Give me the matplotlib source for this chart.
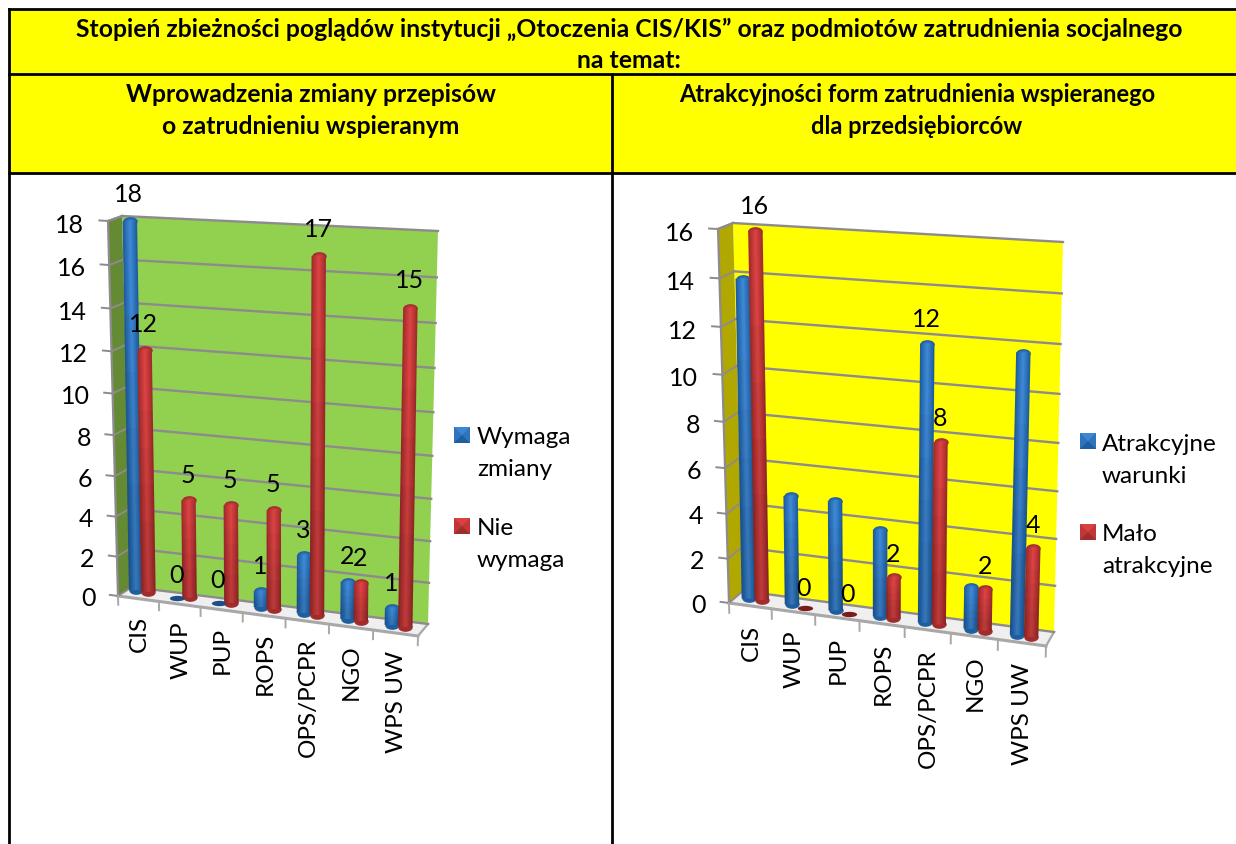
# stopien zbieznosci pogladow - two pseudo 3D cylinder charts inside a yellow table
import numpy as np
import matplotlib
matplotlib.use('Agg')
import matplotlib.pyplot as plt
from matplotlib.markers import MarkerStyle
from matplotlib.patches import Polygon, Rectangle
from matplotlib.transforms import Affine2D, Transform

plt.rcParams['font.family'] = ['Lato', 'DejaVu Sans']

categories = ['CIS', 'WUP', 'PUP', 'ROPS', 'OPS/PCPR', 'NGO', 'WPS UW']

# left chart
zmiana_tak = [18, 0, 0, 1, 3, 2, 1]
zmiana_nie = [12, 5, 5, 5, 17, 2, 15]
zmiana_ticks = [0, 2, 4, 6, 8, 10, 12, 14, 16, 18]

# right chart
atrakcyjne = [14, 5, 5, 4, 12, 2, 12]
malo_atrakcyjne = [16, 0, 0, 2, 8, 2, 4]
atrakcyjne_ticks = [0, 2, 4, 6, 8, 10, 12, 14, 16]
# only these labels are visible in the right chart
atrakcyjne_labels = [None, None, None, None, 12, None, None]

title_lines = ['Stopień zbieżności poglądów instytucji „Otoczenia CIS/KIS” oraz podmiotów zatrudnienia socjalnego',
               'na temat:']
left_head = ['Wprowadzenia zmiany przepisów', 'o zatrudnieniu wspieranym']
right_head = ['Atrakcyjności form zatrudnienia wspieranego', 'dla przedsiębiorców']

BLUE = ['#1f5e9e', '#2769ae', '#2e73bc', '#367dc8', '#3d86d2']
RED = ['#a02c2c', '#b03232', '#bf3737', '#cd3c3c', '#d84242']
GRID = '#8e8a8e'


class Plane(Transform):
    # perspective plane: (category, value) -> pixel, from 4 corners
    input_dims = 2
    output_dims = 2
    is_separable = False
    has_inverse = False

    def __init__(self, xmax, vmax, corners):
        super().__init__()
        src = [(0, 0), (xmax, 0), (0, vmax), (xmax, vmax)]
        rows, rhs = [], []
        for (x, y), (u, v) in zip(src, corners):
            rows.append([x, y, 1, 0, 0, 0, -u * x, -u * y])
            rows.append([0, 0, 0, x, y, 1, -v * x, -v * y])
            rhs += [u, v]
        h = np.linalg.solve(np.array(rows, dtype=float), np.array(rhs, dtype=float))
        self.h = np.append(h, 1).reshape(3, 3)

    def transform_non_affine(self, values):
        values = np.asarray(values, dtype=float)
        pts = np.column_stack([values, np.ones(len(values))]).dot(self.h.T)
        return pts[:, :2] / pts[:, 2:3]


fig = plt.figure(figsize=(12.36, 8.45), dpi=100)
ax = fig.add_axes([0, 0, 1, 1])
ax.set_xlim(0, 1236)
ax.set_ylim(845, 0)
ax.autoscale(False)
ax.axis('off')


def cylinder(pos, val, colors, tr, zero_col):
    if val == 0:
        flat = MarkerStyle('o', transform=Affine2D().scale(1, 0.35))
        ax.plot([pos], [0], marker=flat, ms=11, color=zero_col, mec='none', transform=tr, zorder=5)
        return
    flat_top = MarkerStyle('o', transform=Affine2D().scale(1, 0.6))
    for c, lw in zip(colors, [10.4, 8.2, 6.0, 3.8, 1.8]):
        ax.plot([pos, pos], [0.1, val - 0.1], color=c, lw=lw, solid_capstyle='butt', transform=tr, zorder=5)
        ax.plot([pos], [val - 0.1], marker=flat_top, ms=lw, color=c, mec='none', transform=tr, zorder=5)
    ax.plot([pos], [0.1], marker=flat_top, ms=10.4, color=colors[0], mec='none', transform=tr, zorder=4.9)
    # lower part of the bar gets darker step by step
    for part in [0.75, 0.6, 0.45, 0.3]:
        ax.plot([pos, pos], [0.1, val * part], color='k', alpha=0.03, lw=10.4, solid_capstyle='butt', transform=tr, zorder=5)


def swatch(x, y, colors):
    size = 16
    ax.add_patch(Rectangle((x, y), size, size, fc=colors[2], ec='none', zorder=6))
    ax.add_patch(Polygon([(x, y), (x + size, y), (x + size / 2, y + size / 2)], fc=colors[4], ec='none', zorder=6))
    ax.add_patch(Polygon([(x, y + size), (x + size, y + size), (x + size / 2, y + size / 2)], fc=colors[0], ec='none', zorder=6))


def chart(blue, red, ticks, wall_pts, bar_pts, front_pts, wall_col, side_col, blue_labels=None, top_pad=1.2):
    vmax = ticks[-1]
    n = len(categories)
    wall = Plane(n, vmax, wall_pts)
    bars = Plane(n, vmax, bar_pts)
    front = Plane(n, vmax, front_pts)
    wall_tr = wall + ax.transData
    bar_tr = bars + ax.transData
    front_tr = front + ax.transData

    # back wall, side wall, floor
    ax.add_patch(Polygon([wall_pts[0], wall_pts[1], wall_pts[3], wall_pts[2]], fc=wall_col, ec='none', zorder=2))
    ax.add_patch(Polygon([front_pts[0], wall_pts[0], wall_pts[2], front_pts[2]], fc=side_col, ec='none', zorder=2))
    ax.add_patch(Polygon([wall_pts[0], wall_pts[1], front_pts[1], front_pts[0]], fc='#efefef', ec='none', zorder=3))
    ax.plot([0, n], [0, 0], color='#a8a8a8', lw=2.2, transform=front_tr, zorder=3)
    ax.plot(*zip(front_pts[1], wall_pts[1]), color='#a8a8a8', lw=1.6, zorder=3)
    ax.plot([0, 0], [0, vmax], color=GRID, lw=1.6, transform=front_tr, zorder=3)
    ax.plot(*zip(front_pts[2], wall_pts[2]), color=GRID, lw=1.6, zorder=3)

    # grid and y ticks
    for t in ticks:
        ax.plot([0, n], [t, t], color=GRID, lw=1.7, transform=wall_tr, zorder=3)
        ax.plot(*zip(front.transform_non_affine([(0, t)])[0], wall.transform_non_affine([(0, t)])[0]),
                color=GRID, lw=1.4, zorder=3)
        ax.plot([-0.2, 0], [t, t], color=GRID, lw=1.4, transform=front_tr, zorder=3)
        ax.text(-0.55, t - 0.12, str(t), ha='right', va='center_baseline', fontsize=18, transform=front_tr, zorder=7)

    # x ticks and labels
    for i in range(n + 1):
        ax.plot([i, i], [0, -0.45], color='#a8a8a8', lw=1.4, transform=front_tr, zorder=3)
    for i, name in enumerate(categories):
        ax.text(i + 0.52, -0.8, name, rotation=90, ha='center', va='top', fontsize=17.5, transform=front_tr, zorder=7)

    # bars
    for i in range(n):
        cylinder(i + 0.35, blue[i], BLUE, bar_tr, '#1c4f86')
        cylinder(i + 0.65, red[i], RED, bar_tr, '#7a1c1c')

    # data labels
    if blue_labels is None:
        blue_labels = blue
    for i in range(n):
        if blue_labels[i] is not None:
            ax.text(i + 0.33, blue[i] + top_pad, str(blue_labels[i]), ha='center', va='center_baseline', fontsize=18,
                    transform=bar_tr, zorder=8)
        ax.text(i + 0.63, red[i] + top_pad, str(red[i]), ha='center', va='center_baseline', fontsize=18,
                transform=bar_tr, zorder=8)


# table cells
ax.add_patch(Rectangle((9, 10), 1227, 164, fc='#ffff00', ec='none', zorder=0))
ax.plot([9, 1236], [10, 10], color='k', lw=2, zorder=1)
ax.plot([9, 1236], [75, 75], color='k', lw=2, zorder=1)
ax.plot([9, 1236], [174, 174], color='k', lw=2, zorder=1)
ax.plot([9, 9], [10, 845], color='k', lw=2, zorder=1)
ax.plot([612, 612], [75, 845], color='k', lw=2, zorder=1)

ax.text(629, 29, title_lines[0], ha='center', va='center', fontsize=17.8, fontweight='bold')
ax.text(629, 60, title_lines[1], ha='center', va='center', fontsize=17.8, fontweight='bold')
for y, a, b in zip([94, 127], left_head, right_head):
    ax.text(311, y, a, ha='center', va='center', fontsize=17.8, fontweight='bold')
    ax.text(917, y, b, ha='center', va='center', fontsize=17, fontweight='bold')

chart(zmiana_tak, zmiana_nie, zmiana_ticks,
      [(132, 588), (428, 625), (122, 217), (438, 232)],
      [(122, 591), (421, 632), (115, 219), (428, 240)],
      [(118, 597), (418, 637), (108, 222), (428, 243)],
      '#92d050', '#648a34', top_pad=1.25)

chart(atrakcyjne, malo_atrakcyjne, atrakcyjne_ticks,
      [(743, 592), (1054, 633), (733, 224), (1063, 243)],
      [(734, 599.5), (1047.5, 642.5), (726, 227), (1058, 252)],
      [(729, 604), (1046, 647), (718, 230), (1056, 247)],
      '#ffff00', '#b0a800', blue_labels=atrakcyjne_labels, top_pad=1.0)

# legends
swatch(454, 428, BLUE)
swatch(454, 519, RED)
for y, s in zip([444, 476, 535, 567], ['Wymaga', 'zmiany', 'Nie', 'wymaga']):
    ax.text(477, y, s, ha='left', va='baseline', fontsize=17.5, zorder=7)
swatch(1080, 434, BLUE)
swatch(1080, 525, RED)
for y, s in zip([451, 483, 541, 573], ['Atrakcyjne', 'warunki', 'Mało', 'atrakcyjne']):
    ax.text(1102, y, s, ha='left', va='baseline', fontsize=17.5, zorder=7)

fig.savefig('out.png', dpi=100)
